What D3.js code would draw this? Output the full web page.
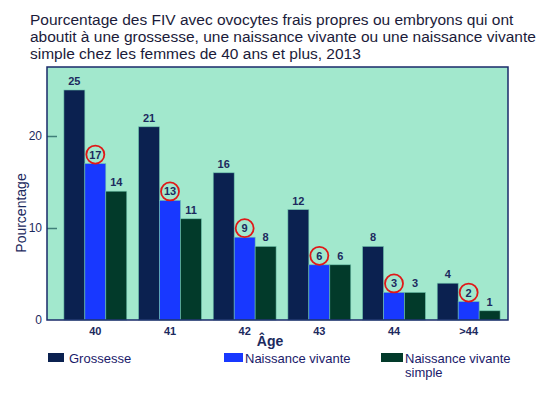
<!DOCTYPE html>
<html>
<head>
<meta charset="utf-8">
<script src="https://cdn.jsdelivr.net/npm/d3@7"></script>
<style>
  body { margin: 0; background: #fff; }
  text { font-family: "Liberation Sans", Arial, sans-serif; }
</style>
</head>
<body>
<svg id="chart" width="553" height="399"></svg>
<script>
// Data
const ages = ["40", "41", "42", "43", "44", ">44"];
const seriesNames = ["Grossesse", "Naissance vivante", "Naissance vivante simple"];
const grossesse = [25, 21, 16, 12, 8, 4];
const naissanceVivante = [17, 13, 9, 6, 3, 2];
const naissanceSimple = [14, 11, 8, 6, 3, 1];
const yTicks = [0, 10, 20];

const colors = ["#0b2150", "#1838ff", "#023a2a"];
const navy = "#1c2a5e";

const svg = d3.select("#chart");
const plot = {left: 47, right: 508, top: 67, bottom: 320};

// Title
const title = [
  "Pourcentage des FIV avec ovocytes frais propres ou embryons qui ont",
  "aboutit à une grossesse, une naissance vivante ou une naissance vivante",
  "simple chez les femmes de 40 ans et plus, 2013"
];
svg.append("g").selectAll("text")
  .data(title)
  .enter()
  .append("text")
  .attr("x", 30)
  .attr("y", (d, i) => 25 + i * 17)
  .style("font-size", "15.5px")
  .attr("fill", "#1b1b3a")
  .text(d => d);

// Scales
const x = d3.scaleBand()
  .domain(ages)
  .range([58, 506])
  .paddingInner(0.158)
  .paddingOuter(0.079);

const xSub = d3.scaleBand()
  .domain([0, 1, 2])
  .range([0, x.bandwidth()]);

const y = d3.scaleLinear()
  .domain([0, 27.5])
  .range([plot.bottom, plot.top]);

// Plot background
svg.append("rect")
  .attr("x", plot.left)
  .attr("y", plot.top)
  .attr("width", plot.right - plot.left)
  .attr("height", plot.bottom - plot.top)
  .attr("fill", "#a2e8cd");

// Y axis (ticks drawn inside the plot)
const yAxis = d3.axisRight(y)
  .tickValues(yTicks)
  .tickSize(10)
  .tickFormat("");
const yg = svg.append("g")
  .attr("transform", `translate(${plot.left},0)`)
  .call(yAxis);
yg.select(".domain").remove();
yg.selectAll(".tick line").attr("stroke", "#3f7f78").attr("stroke-width", 1.5)
  .filter(d => d === 0).remove();

svg.append("g").selectAll("text")
  .data(yTicks)
  .enter()
  .append("text")
  .attr("x", 42)
  .attr("y", d => y(d) + 4)
  .attr("text-anchor", "end")
  .style("font-size", "12px")
  .attr("fill", navy)
  .text(d => d);

// Bars
const allSeries = [grossesse, naissanceVivante, naissanceSimple];
const rows = [];
ages.forEach((a, i) => {
  allSeries.forEach((s, j) => rows.push({age: a, s: j, v: s[i]}));
});

svg.append("g").selectAll("rect")
  .data(rows)
  .enter()
  .append("rect")
  .attr("x", d => x(d.age) + xSub(d.s))
  .attr("y", d => y(d.v))
  .attr("width", xSub.bandwidth())
  .attr("height", d => y(0) - y(d.v))
  .attr("fill", d => colors[d.s])
  .attr("stroke", "#6fc4ac")
  .attr("stroke-width", 0.6);

// Value labels
svg.append("g").selectAll("text")
  .data(rows)
  .enter()
  .append("text")
  .attr("x", d => x(d.age) + xSub(d.s) + xSub.bandwidth() / 2)
  .attr("y", d => y(d.v) - 5)
  .attr("text-anchor", "middle")
  .style("font-size", "11px")
  .style("font-weight", "bold")
  .attr("fill", navy)
  .text(d => d.v);

// Red circles around "Naissance vivante" labels
svg.append("g").selectAll("circle")
  .data(rows.filter(d => d.s === 1))
  .enter()
  .append("circle")
  .attr("cx", d => x(d.age) + xSub(d.s) + xSub.bandwidth() / 2)
  .attr("cy", d => y(d.v) - 9)
  .attr("r", 9)
  .attr("fill", "none")
  .attr("stroke", "#e01818")
  .attr("stroke-width", 1.8);

// Plot border
svg.append("rect")
  .attr("x", plot.left)
  .attr("y", plot.top)
  .attr("width", plot.right - plot.left)
  .attr("height", plot.bottom - plot.top)
  .attr("fill", "none")
  .attr("stroke", "#1a2a6a")
  .attr("stroke-width", 1.5);

// X axis labels
const xg = svg.append("g")
  .attr("transform", `translate(0,${plot.bottom})`)
  .call(d3.axisBottom(x).tickSize(0).tickPadding(7));
xg.select(".domain").remove();
xg.selectAll("text")
  .style("font-family", "'Liberation Sans', Arial, sans-serif")
  .style("font-size", "11px")
  .style("font-weight", "bold")
  .attr("fill", navy);

// Axis titles
svg.append("text")
  .attr("x", 270)
  .attr("y", 346)
  .attr("text-anchor", "middle")
  .style("font-size", "14px")
  .style("font-weight", "bold")
  .attr("fill", navy)
  .text("Âge");

svg.append("text")
  .attr("transform", "rotate(-90)")
  .attr("x", -213)
  .attr("y", 26)
  .attr("text-anchor", "middle")
  .style("font-size", "14px")
  .attr("fill", navy)
  .text("Pourcentage");

// Legend
const legend = [
  {x: 48, w: 16, lines: ["Grossesse"], tx: 69},
  {x: 224, w: 19, lines: ["Naissance vivante"], tx: 245},
  {x: 381, w: 22, lines: ["Naissance vivante", "simple"], tx: 405}
];
const lg = svg.append("g").selectAll("g")
  .data(legend)
  .enter()
  .append("g");
lg.append("rect")
  .attr("x", d => d.x)
  .attr("y", 353)
  .attr("width", d => d.w)
  .attr("height", 9)
  .attr("fill", (d, i) => colors[i]);
lg.append("text")
  .attr("x", d => d.tx)
  .attr("y", 363)
  .style("font-size", "13px")
  .attr("fill", "#1a1a6a")
  .selectAll("tspan")
  .data(d => d.lines.map(l => ({l, tx: d.tx})))
  .enter()
  .append("tspan")
  .attr("x", d => d.tx)
  .attr("dy", (d, i) => i === 0 ? 0 : 14)
  .text(d => d.l);
</script>
</body>
</html>
